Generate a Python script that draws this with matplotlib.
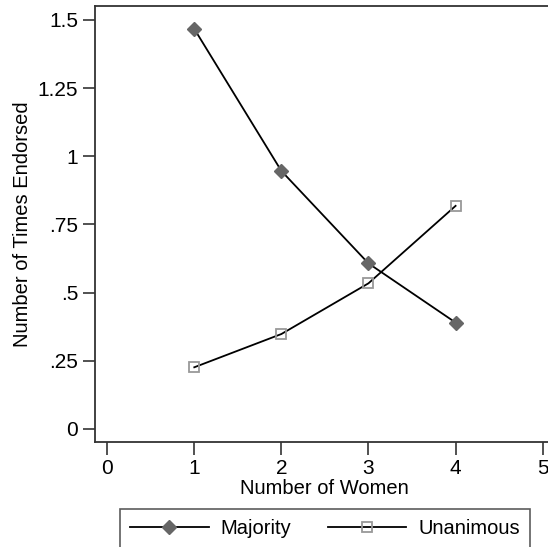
import matplotlib
matplotlib.use("Agg")
import matplotlib.pyplot as plt
from matplotlib.lines import Line2D

plt.rcParams['font.family'] = ['Liberation Sans', 'DejaVu Sans']

women = [1, 2, 3, 4]
majority = [1.467, 0.946, 0.607, 0.390]
unanimous = [0.226, 0.348, 0.534, 0.818]
xticks = [0, 1, 2, 3, 4, 5]
yticks = [0, 0.25, 0.5, 0.75, 1.0, 1.25, 1.5]
yticklabels = ["0", ".25", ".5", ".75", "1", "1.25", "1.5"]

fig = plt.figure(figsize=(5.48, 5.47), dpi=100)
ax = fig.add_axes([95/548, 1-442/547, 459/548, 436/547])

ax.plot(women, majority, color='black', lw=1.3, marker='D', ms=7.5,
        markerfacecolor='#666666', markeredgecolor='#666666', zorder=3)
ax.plot(women, unanimous, color='black', lw=1.3, marker='s', ms=7,
        markerfacecolor='none', markeredgecolor='#999999', markeredgewidth=1.3, zorder=3)

ax.set_xlim(-0.14, 5.13)
ax.set_ylim(-0.048, 1.551)
ax.set_xticks(xticks)
ax.set_xticklabels([str(t) for t in xticks])
ax.set_yticks(yticks)
ax.set_yticklabels(yticklabels)
ax.tick_params(direction='out', length=9, width=1.2, labelsize=15, pad=3, color='#333333')
for s in ax.spines.values():
    s.set_linewidth(1.3)
    s.set_color('#333333')

ax.set_xlabel("Number of Women", fontsize=14.5, labelpad=1)
ax.set_ylabel("Number of Times Endorsed", fontsize=14.5, labelpad=4)

handles = [
    Line2D([], [], color='black', lw=1.3, marker='D', ms=7.5,
           markerfacecolor='#666666', markeredgecolor='#666666'),
    Line2D([], [], color='black', lw=1.3, marker='s', ms=7,
           markerfacecolor='none', markeredgecolor='#999999', markeredgewidth=1.3),
]
leg = fig.legend(handles, ["Majority", "Unanimous"], ncol=2, loc='upper center',
                 bbox_to_anchor=(325/548, 1-509/547), fontsize=14.5,
                 handlelength=3.9, handletextpad=0.6, columnspacing=1.8,
                 frameon=True, fancybox=False, borderpad=0.5, borderaxespad=0)
leg.get_frame().set_edgecolor('#333333')
leg.get_frame().set_linewidth(1.2)

fig.savefig("out.png", dpi=100)
